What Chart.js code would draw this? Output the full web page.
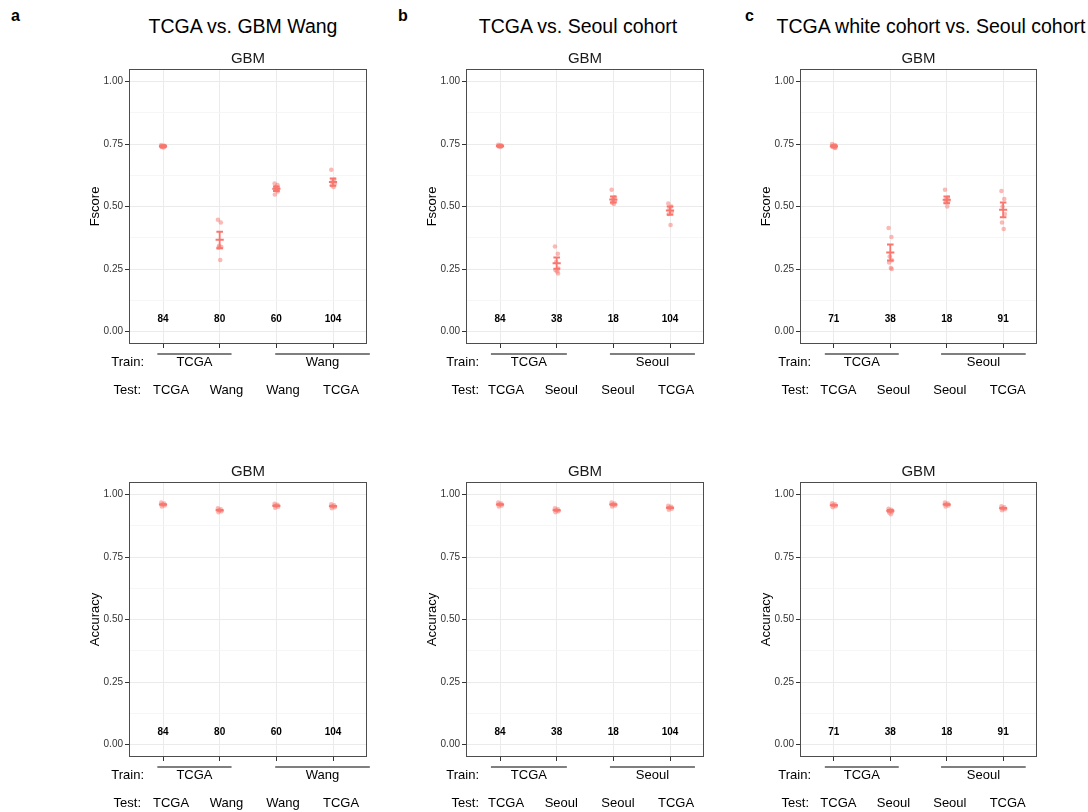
<!DOCTYPE html>
<html>
<head>
<meta charset="utf-8">
<title>GBM Fscore / Accuracy</title>
<script src="https://cdn.jsdelivr.net/npm/chart.js@4.4.0/dist/chart.umd.min.js"></script>
<style>
  body{margin:0;background:#fff;width:1088px;height:812px;position:relative;overflow:hidden;
       font-family:"Liberation Sans",Arial,Helvetica,sans-serif;color:#000}
  .panel{position:absolute}
  .letter{position:absolute;font-weight:bold;font-size:16px;line-height:16px}
  .head{position:absolute;font-size:19.5px;line-height:19.5px;white-space:nowrap;transform:translateX(-50%)}
</style>
</head>
<body>
<div class="letter" style="left:11px;top:8px">a</div>
<div class="letter" style="left:398px;top:8px">b</div>
<div class="letter" style="left:745px;top:8px">c</div>
<div class="head" style="left:243px;top:17px">TCGA vs. GBM Wang</div>
<div class="head" style="left:578px;top:17px">TCGA vs. Seoul cohort</div>
<div class="head" style="left:931px;top:17px">TCGA white cohort vs. Seoul cohort</div>

<script>
// ---- data: a = TCGA vs. GBM Wang ----
const trainA = ['TCGA', 'Wang']
const testA = ['TCGA', 'Wang', 'Wang', 'TCGA']
const countsA = [84, 80, 60, 104]
const fscoreA = [
  [0.746, 0.743, 0.741, 0.740, 0.738, 0.736, 0.742, 0.739],
  [0.447, 0.436, 0.343, 0.338, 0.335, 0.286],
  [0.592, 0.586, 0.578, 0.572, 0.568, 0.565, 0.560, 0.548],
  [0.647, 0.607, 0.600, 0.592, 0.585, 0.578]
]
const fscoreBarsA = [[0.738, 0.741, 0.744], [0.333, 0.367, 0.399], [0.562, 0.571, 0.580], [0.583, 0.598, 0.612]]
const accuracyA = [
  [0.968, 0.964, 0.960, 0.956, 0.952],
  [0.945, 0.941, 0.937, 0.933, 0.929],
  [0.963, 0.959, 0.955, 0.951, 0.947],
  [0.961, 0.957, 0.953, 0.949, 0.945]
]
const accuracyBarsA = [[0.959, 0.960, 0.961], [0.936, 0.937, 0.938], [0.954, 0.955, 0.956], [0.952, 0.953, 0.954]]

// ---- data: b = TCGA vs. Seoul cohort ----
const trainB = ['TCGA', 'Seoul']
const testB = ['TCGA', 'Seoul', 'Seoul', 'TCGA']
const countsB = [84, 38, 18, 104]
const fscoreB = [
  [0.747, 0.745, 0.743, 0.742, 0.740, 0.738],
  [0.340, 0.311, 0.278, 0.252, 0.245, 0.240, 0.232],
  [0.567, 0.537, 0.528, 0.522, 0.515, 0.510],
  [0.512, 0.500, 0.490, 0.478, 0.470, 0.426]
]
const fscoreBarsB = [[0.739, 0.742, 0.745], [0.251, 0.273, 0.296], [0.516, 0.528, 0.540], [0.467, 0.484, 0.500]]
const accuracyB = [
  [0.968, 0.964, 0.960, 0.956, 0.952],
  [0.945, 0.941, 0.937, 0.933, 0.929],
  [0.968, 0.964, 0.960, 0.956, 0.952],
  [0.955, 0.951, 0.947, 0.943, 0.939]
]
const accuracyBarsB = [[0.959, 0.960, 0.961], [0.936, 0.937, 0.938], [0.959, 0.960, 0.961], [0.946, 0.947, 0.948]]

// ---- data: c = TCGA white cohort vs. Seoul cohort ----
const trainC = ['TCGA', 'Seoul']
const testC = ['TCGA', 'Seoul', 'Seoul', 'TCGA']
const countsC = [71, 38, 18, 91]
const fscoreC = [
  [0.750, 0.746, 0.743, 0.741, 0.739, 0.736, 0.734],
  [0.414, 0.378, 0.300, 0.285, 0.276, 0.254, 0.250],
  [0.567, 0.535, 0.528, 0.522, 0.517, 0.500],
  [0.562, 0.530, 0.500, 0.470, 0.436, 0.410]
]
const fscoreBarsC = [[0.737, 0.741, 0.745], [0.284, 0.316, 0.348], [0.513, 0.527, 0.540], [0.457, 0.487, 0.516]]
const accuracyC = [
  [0.965, 0.961, 0.957, 0.953, 0.949],
  [0.943, 0.939, 0.935, 0.931, 0.928, 0.921],
  [0.968, 0.964, 0.960, 0.956, 0.952],
  [0.953, 0.949, 0.945, 0.941, 0.937]
]
const accuracyBarsC = [[0.956, 0.957, 0.958], [0.932, 0.935, 0.938], [0.959, 0.960, 0.961], [0.944, 0.945, 0.946]]

// horizontal jitter (category units), reused for every group
const jitter = [-0.03, 0.02, -0.01, 0.03, -0.02, 0.01, 0.025, -0.025]

const yTicks = [0, 0.125, 0.25, 0.375, 0.5, 0.625, 0.75, 0.875, 1]

// ---- layout ----
// testShift: test labels are left-aligned this many px left of their tick
const cols = [
  {L: 129, R: 367, trainDx: 15, testDx: 12, testShift: 10, spans: [[0.9, 2.21], [2.98, 4.65]]},
  {L: 466, R: 704, trainDx: 13, testDx: 13, testShift: 12, spans: [[0.84, 2.18], [2.94, 4.44]]},
  {L: 800, R: 1037, trainDx: 11, testDx: 9, testShift: 13.5, spans: [[0.84, 2.15], [2.9, 4.4]]}
]
const rows = [{T: 69, B: 344}, {T: 482, B: 757}]
const padL = 72, padT = 32, padR = 12, padB = 56

const red = '#F8766D'
const font = '"Liberation Sans", Arial, Helvetica, sans-serif'
Chart.defaults.font.family = font

function pointData(groups){
  const out = []
  groups.forEach((vals, i) => {
    vals.forEach((v, k) => out.push({x: i + 1 + jitter[k % jitter.length], y: v}))
  })
  return out
}

// mean +/- se drawn as one broken line: caps, stem and mean tick
function barData(bars){
  const cap = 0.058, mid = 0.072
  const out = []
  bars.forEach(([lo, m, hi], i) => {
    const c = i + 1
    out.push({x: c - cap, y: hi}, {x: c + cap, y: hi}, {x: c, y: null})
    out.push({x: c - cap, y: lo}, {x: c + cap, y: lo}, {x: c, y: null})
    out.push({x: c, y: lo}, {x: c, y: hi}, {x: c, y: null})
    out.push({x: c - mid, y: m}, {x: c + mid, y: m}, {x: c, y: null})
  })
  return out
}

const isMajor = v => Math.round(v * 1000) % 250 === 0

const panelDecor = {
  id: 'panelDecor',
  afterDraw(chart, args, o){
    const {ctx, chartArea: a, scales: {x, y}} = chart
    ctx.save()
    // panel border
    ctx.strokeStyle = '#4d4d4d'
    ctx.lineWidth = 1
    ctx.strokeRect(Math.round(a.left) + 0.5, Math.round(a.top) + 0.5,
      Math.round(a.right - a.left) - 1, Math.round(a.bottom - a.top) - 1)

    // facet title
    ctx.fillStyle = '#1a1a1a'
    ctx.font = `15px ${font}`
    ctx.textAlign = 'center'
    ctx.textBaseline = 'alphabetic'
    ctx.fillText('GBM', (a.left + a.right) / 2, a.top - 6)

    // y title
    ctx.save()
    ctx.translate(a.left - 34, (a.top + a.bottom) / 2)
    ctx.rotate(-Math.PI / 2)
    ctx.font = `13px ${font}`
    ctx.textBaseline = 'middle'
    ctx.fillStyle = '#000'
    ctx.fillText(o.yTitle, 0, 0)
    ctx.restore()

    // sample counts
    ctx.font = `bold 10px ${font}`
    ctx.fillStyle = '#000'
    ctx.textBaseline = 'middle'
    o.counts.forEach((n, i) => ctx.fillText(String(n), x.getPixelForValue(i + 1), y.getPixelForValue(0.05)))

    // train / test rows under the axis
    ctx.font = `13px ${font}`
    ctx.fillStyle = '#000'
    const trainY = a.bottom + 18, testY = a.bottom + 46
    ctx.textAlign = 'right'
    ctx.fillText('Train:', a.left + o.trainDx, trainY)
    ctx.fillText('Test:', a.left + o.testDx, testY)
    ctx.textAlign = 'center'
    ctx.strokeStyle = '#000'
    ctx.lineWidth = 1.2
    o.train.forEach((lab, i) => {
      const x0 = x.getPixelForValue(o.spans[i][0]), x1 = x.getPixelForValue(o.spans[i][1])
      ctx.beginPath()
      ctx.moveTo(x0, a.bottom + 10)
      ctx.lineTo(x1, a.bottom + 10)
      ctx.stroke()
      ctx.fillText(lab, (x0 + x1) / 2, trainY)
    })
    ctx.textAlign = 'left'
    o.test.forEach((lab, i) => ctx.fillText(lab, x.getPixelForValue(i + 1) - o.testShift, testY))
    ctx.restore()
  }
}

function makePanel(col, row, spec){
  const c = cols[col], r = rows[row]
  const w = c.R - c.L + padL + padR, h = r.B - r.T + padT + padB
  const box = document.createElement('div')
  box.className = 'panel'
  box.style.left = (c.L - padL) + 'px'
  box.style.top = (r.T - padT) + 'px'
  const canvas = document.createElement('canvas')
  canvas.width = w
  canvas.height = h
  canvas.style.width = w + 'px'
  canvas.style.height = h + 'px'
  box.appendChild(canvas)
  document.body.appendChild(box)

  new Chart(canvas, {
    type: 'scatter',
    data: {
      datasets: [
        {data: barData(spec.bars), showLine: true, spanGaps: false, borderColor: red,
         borderWidth: 1.8, pointRadius: 0, pointHoverRadius: 0},
        {data: pointData(spec.points), backgroundColor: 'rgba(248,118,109,0.5)',
         borderWidth: 0, pointRadius: 2.3, pointHoverRadius: 2.3}
      ]
    },
    options: {
      responsive: false,
      animation: false,
      devicePixelRatio: 1,
      events: [],
      layout: {padding: {top: padT, right: padR, left: 0, bottom: 0}},
      plugins: {
        legend: {display: false},
        tooltip: {enabled: false},
        panelDecor: {yTitle: spec.yTitle, counts: spec.counts, test: spec.test, train: spec.train,
                     spans: c.spans, trainDx: c.trainDx, testDx: c.testDx, testShift: c.testShift}
      },
      scales: {
        x: {
          type: 'linear', min: 0.4, max: 4.6,
          afterBuildTicks: s => { s.ticks = [1, 2, 3, 4].map(v => ({value: v})) },
          afterFit: s => { s.height = padB },
          ticks: {display: false},
          border: {display: false},
          grid: {color: '#ebebeb', lineWidth: 1, tickColor: '#333', tickLength: 4, drawTicks: true}
        },
        y: {
          type: 'linear', min: -0.05, max: 1.05,
          afterBuildTicks: s => { s.ticks = yTicks.map(v => ({value: v})) },
          afterFit: s => { s.width = padL },
          border: {display: false},
          ticks: {
            font: {size: 10}, color: '#333', padding: 2, autoSkip: false,
            callback: v => (isMajor(v) ? v.toFixed(2) : '')
          },
          grid: {
            color: ctx => (isMajor(ctx.tick.value) ? '#ebebeb' : '#f4f4f4'),
            lineWidth: ctx => (isMajor(ctx.tick.value) ? 1 : 0.8),
            tickColor: ctx => (isMajor(ctx.tick.value) ? '#333' : 'rgba(0,0,0,0)'),
            tickLength: 4
          }
        }
      }
    },
    plugins: [panelDecor]
  })
}

makePanel(0, 0, {yTitle: 'Fscore', points: fscoreA, bars: fscoreBarsA, counts: countsA, test: testA, train: trainA})
makePanel(1, 0, {yTitle: 'Fscore', points: fscoreB, bars: fscoreBarsB, counts: countsB, test: testB, train: trainB})
makePanel(2, 0, {yTitle: 'Fscore', points: fscoreC, bars: fscoreBarsC, counts: countsC, test: testC, train: trainC})
makePanel(0, 1, {yTitle: 'Accuracy', points: accuracyA, bars: accuracyBarsA, counts: countsA, test: testA, train: trainA})
makePanel(1, 1, {yTitle: 'Accuracy', points: accuracyB, bars: accuracyBarsB, counts: countsB, test: testB, train: trainB})
makePanel(2, 1, {yTitle: 'Accuracy', points: accuracyC, bars: accuracyBarsC, counts: countsC, test: testC, train: trainC})
</script>
</body>
</html>
